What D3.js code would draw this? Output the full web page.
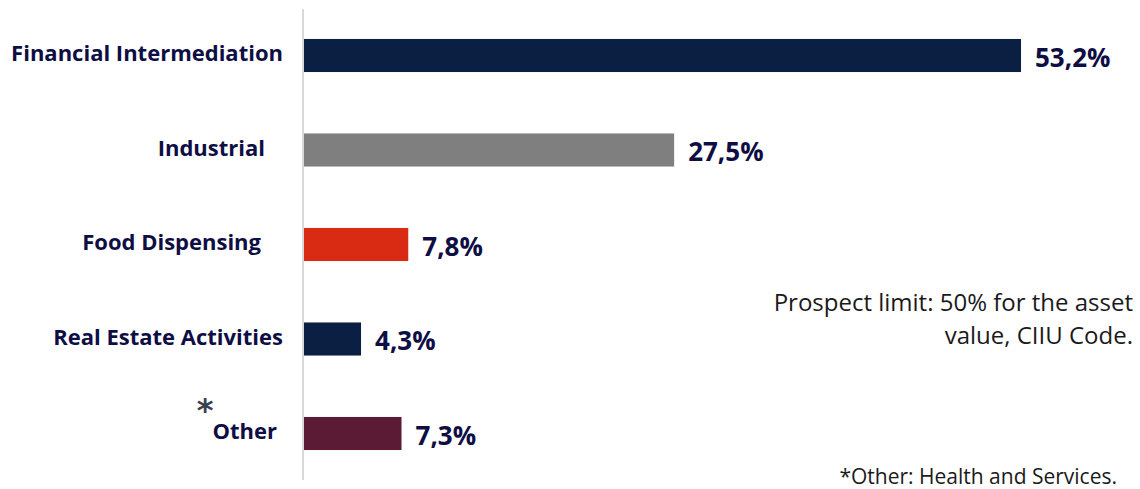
<!DOCTYPE html>
<html>
<head>
<meta charset="utf-8">
<script src="https://cdn.jsdelivr.net/npm/d3@7"></script>
<style>
  html, body { margin: 0; padding: 0; background: #ffffff; }
  svg { display: block; }
</style>
</head>
<body>
<div id="chart"></div>
<script>
const categories = ["Financial Intermediation", "Industrial", "Food Dispensing", "Real Estate Activities", "Other"];
const values = [53.2, 27.5, 7.8, 4.3, 7.3];
const valueLabels = ["53,2%", "27,5%", "7,8%", "4,3%", "7,3%"];
const barColours = ["#0b1f42", "#7f7f7f", "#d92b14", "#0b1f42", "#5c1b35"];
const noteLines = ["Prospect limit: 50% for the asset", "value, CIIU Code."];
const footnote = "*Other: Health and Services.";

const width = 1140, height = 489;
const textColour = "#0e0e45";

const svg = d3.select("#chart").append("svg")
    .attr("width", width)
    .attr("height", height);

const x = d3.scaleLinear()
    .domain([0, 60])
    .range([303, 303 + 60 * 13.496]);

const y = d3.scaleBand()
    .domain(categories)
    .range([9, 480])
    .paddingInner(0.65)
    .paddingOuter(0.317);

// bars
svg.selectAll("rect.bar")
    .data(categories)
    .enter().append("rect")
    .attr("class", "bar")
    .attr("x", x(0))
    .attr("y", d => y(d))
    .attr("width", (d, i) => x(values[i]) - x(0))
    .attr("height", y.bandwidth())
    .attr("fill", (d, i) => barColours[i]);

// vertical axis line
svg.append("line")
    .attr("x1", x(0))
    .attr("x2", x(0))
    .attr("y1", y.range()[0])
    .attr("y2", y.range()[1])
    .attr("stroke", "#d9d9d9")
    .attr("stroke-width", 2);

// category labels (slight individual nudges as in the original slide)
const labelShift = [0, -18, -22, 0, -6];
svg.selectAll("text.cat")
    .data(categories)
    .enter().append("text")
    .attr("class", "cat")
    .attr("x", (d, i) => x(0) - 20 + labelShift[i])
    .attr("y", d => y(d) + y.bandwidth() / 2 - 2)
    .attr("dy", "0.35em")
    .attr("text-anchor", "end")
    .style("font-family", "'Open Sans', sans-serif")
    .style("font-weight", "bold")
    .style("font-size", "22px")
    .style("fill", textColour)
    .text(d => d);

// asterisk next to "Other"
svg.append("text")
    .attr("x", x(0) - 98)
    .attr("y", y("Other") + 4)
    .attr("text-anchor", "middle")
    .style("font-family", "'DejaVu Sans', sans-serif")
    .style("font-weight", "bold")
    .style("font-size", "32px")
    .style("fill", "#3a4050")
    .text("*");

// value labels
svg.selectAll("text.val")
    .data(categories)
    .enter().append("text")
    .attr("class", "val")
    .attr("x", (d, i) => x(values[i]) + 14)
    .attr("y", d => y(d) + y.bandwidth() / 2 + 2)
    .attr("dy", "0.35em")
    .style("font-family", "'Open Sans', sans-serif")
    .style("font-weight", "bold")
    .style("font-size", "26px")
    .style("fill", textColour)
    .text((d, i) => valueLabels[i]);

// note on the right
svg.append("g")
    .selectAll("text")
    .data(noteLines)
    .enter().append("text")
    .attr("x", 1133)
    .attr("y", (d, i) => 311 + i * 33)
    .attr("text-anchor", "end")
    .style("font-family", "'Open Sans', sans-serif")
    .style("font-size", "24px")
    .style("fill", "#1a1a1a")
    .text(d => d);

svg.append("text")
    .attr("x", 1117)
    .attr("y", 484)
    .attr("text-anchor", "end")
    .style("font-family", "'Open Sans', sans-serif")
    .style("font-size", "21px")
    .style("fill", "#1a1a1a")
    .text(footnote);
</script>
</body>
</html>
